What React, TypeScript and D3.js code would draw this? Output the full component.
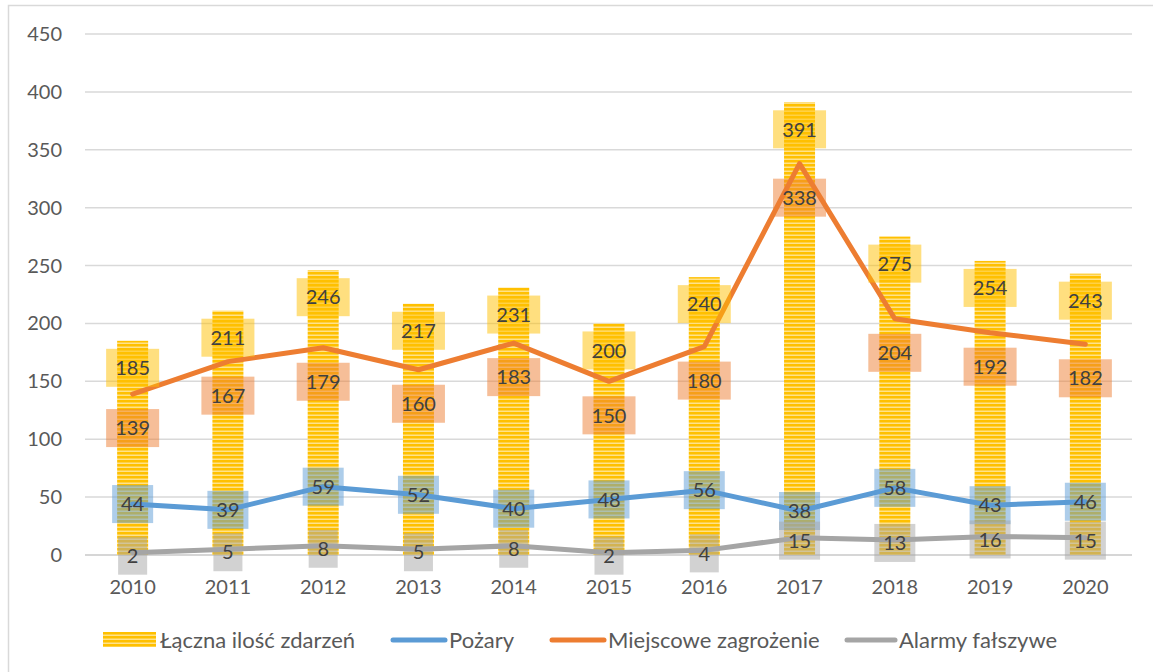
import React, { useEffect, useRef } from "react";
import * as d3 from "d3";

// values
const years = ["2010", "2011", "2012", "2013", "2014", "2015", "2016", "2017", "2018", "2019", "2020"];
const total = [185, 211, 246, 217, 231, 200, 240, 391, 275, 254, 243];
const fires = [44, 39, 59, 52, 40, 48, 56, 38, 58, 43, 46];
const local = [139, 167, 179, 160, 183, 150, 180, 338, 204, 192, 182];
const falseAlarms = [2, 5, 8, 5, 8, 2, 4, 15, 13, 16, 15];
const yTicks = [0, 50, 100, 150, 200, 250, 300, 350, 400, 450];

const FONT = "Lato, 'Open Sans', sans-serif";

const App: React.FC = () => {
    const ref = useRef<SVGSVGElement>(null);

    useEffect(() => {
        const svg = d3.select(ref.current);
        svg.selectAll("*").remove();

        const x = d3.scalePoint<string>().domain(years).range([85, 1133]).padding(0.5);
        const y = d3.scaleLinear().domain([0, 450]).range([555, 34]);
        const barW = 31;

        // striped fill for the bars
        const defs = svg.append("defs");
        const pat = defs.append("pattern")
            .attr("id", "stripes")
            .attr("patternUnits", "userSpaceOnUse")
            .attr("width", 8)
            .attr("height", 4);
        pat.append("rect").attr("width", 8).attr("height", 4).attr("fill", "#FFC000");
        pat.append("rect").attr("y", 2.5).attr("width", 8).attr("height", 1.5).attr("fill", "#FFE28A");

        // frame
        svg.append("rect")
            .attr("x", 8.5).attr("y", 5.5)
            .attr("width", 1170).attr("height", 700)
            .attr("fill", "white")
            .attr("stroke", "#D9D9D9")
            .attr("stroke-width", 1.5);

        // gridlines + y ticks
        svg.append("g").selectAll("line")
            .data(yTicks)
            .enter().append("line")
            .attr("x1", 85).attr("x2", 1132)
            .attr("y1", (d) => y(d)).attr("y2", (d) => y(d))
            .attr("stroke", (d) => (d === 0 ? "#C8C8C8" : "#D9D9D9"))
            .attr("stroke-width", 1.5);

        svg.append("g").selectAll("text")
            .data(yTicks)
            .enter().append("text")
            .attr("x", 62)
            .attr("y", (d) => y(d))
            .attr("dy", "0.35em")
            .attr("text-anchor", "end")
            .attr("font-family", FONT)
            .attr("font-size", 20)
            .attr("fill", "#595959")
            .text((d) => d);

        // x labels
        svg.append("g").selectAll("text")
            .data(years)
            .enter().append("text")
            .attr("x", (d) => x(d)!)
            .attr("y", 594)
            .attr("text-anchor", "middle")
            .attr("font-family", FONT)
            .attr("font-size", 20)
            .attr("fill", "#595959")
            .text((d) => d);

        // bars
        svg.append("g").selectAll("rect")
            .data(total)
            .enter().append("rect")
            .attr("x", (d, i) => x(years[i])! - barW / 2)
            .attr("y", (d) => y(d))
            .attr("width", barW)
            .attr("height", (d) => y(0) - y(d))
            .attr("fill", "url(#stripes)");

        // lines
        const series = [
            { values: falseAlarms, color: "#A5A5A5" },
            { values: fires, color: "#5B9BD5" },
            { values: local, color: "#ED7D31" },
        ];
        const line = d3.line<number>()
            .x((d, i) => x(years[i])!)
            .y((d) => y(d));
        series.forEach((s) => {
            svg.append("path")
                .datum(s.values)
                .attr("d", line)
                .attr("fill", "none")
                .attr("stroke", s.color)
                .attr("stroke-width", 5)
                .attr("stroke-linejoin", "round")
                .attr("stroke-linecap", "round");
        });

        // data labels with tinted boxes
        const boxW = (v: number) => (String(v).length === 1 ? 29 : String(v).length === 2 ? 41 : 53);
        const addLabels = (values: number[], color: string, cy: (v: number) => number) => {
            const g = svg.append("g");
            values.forEach((v, i) => {
                const cx = x(years[i])!;
                const w = boxW(v);
                g.append("rect")
                    .attr("x", cx - w / 2)
                    .attr("y", cy(v) - 19)
                    .attr("width", w)
                    .attr("height", 38)
                    .attr("fill", color)
                    .attr("fill-opacity", 0.5);
                g.append("text")
                    .attr("x", cx)
                    .attr("y", cy(v))
                    .attr("dy", "0.36em")
                    .attr("text-anchor", "middle")
                    .attr("font-family", FONT)
                    .attr("font-size", 20)
                    .attr("fill", "#404040")
                    .text(v);
            });
        };
        addLabels(total, "#FFC000", (v) => y(v) + 27);
        addLabels(local, "#ED7D31", (v) => y(v) + 34);
        addLabels(fires, "#5B9BD5", (v) => y(v));
        addLabels(falseAlarms, "#A5A5A5", (v) => y(v) + 3);

        // legend
        const leg = svg.append("g").attr("font-family", FONT).attr("font-size", 22).attr("fill", "#595959");
        leg.append("rect").attr("x", 103).attr("y", 632).attr("width", 53).attr("height", 15).attr("fill", "url(#stripes)");
        leg.append("text").attr("x", 160).attr("y", 640).attr("dy", "0.35em").text("Łączna ilość zdarzeń");
        const legLines = [
            { x1: 393, x2: 445, color: "#5B9BD5", tx: 449, label: "Pożary" },
            { x1: 552, x2: 604, color: "#ED7D31", tx: 608, label: "Miejscowe zagrożenie" },
            { x1: 847, x2: 895, color: "#A5A5A5", tx: 899, label: "Alarmy fałszywe" },
        ];
        legLines.forEach((l) => {
            leg.append("line")
                .attr("x1", l.x1).attr("x2", l.x2)
                .attr("y1", 640).attr("y2", 640)
                .attr("stroke", l.color)
                .attr("stroke-width", 5)
                .attr("stroke-linecap", "round");
            leg.append("text").attr("x", l.tx).attr("y", 640).attr("dy", "0.35em").text(l.label);
        });
    }, []);

    return (
        <div style={{ position: "absolute", left: 0, top: 0 }}>
            <svg ref={ref} width={1153} height={672} style={{ display: "block" }}></svg>
        </div>
    );
};

export default App;
